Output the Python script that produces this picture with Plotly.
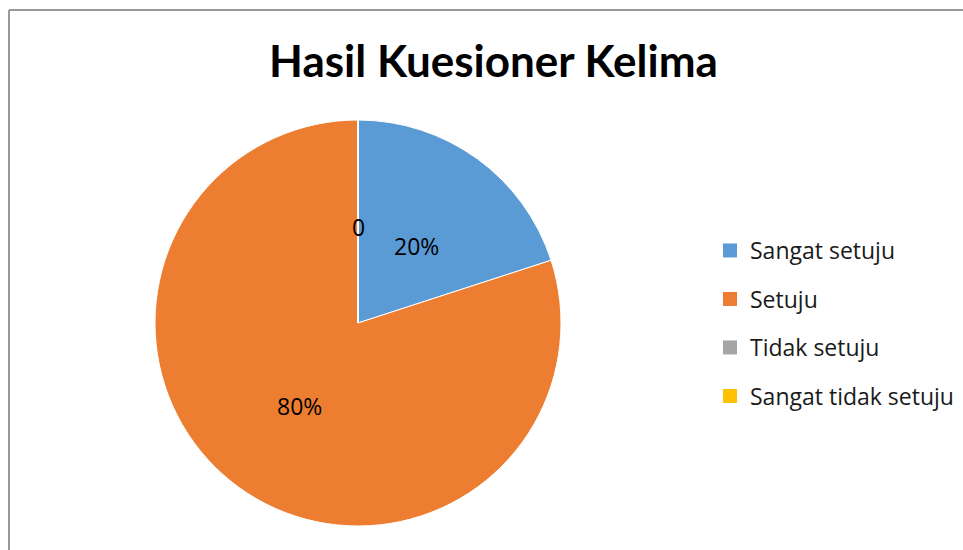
import math
import plotly.graph_objects as go

# ---- data ----
labels = ["Sangat setuju", "Setuju", "Tidak setuju", "Sangat tidak setuju"]
values = [20, 80, 0, 0]
label_texts = ["20%", "80%", "0", ""]
colors = ["#5B9BD5", "#ED7D31", "#A5A5A5", "#FFC000"]
title_text = "Hasil Kuesioner Kelima"

# ---- layout constants (pixels) ----
W, H = 963, 550
cx, cy, R = 358, 323, 203
label_k = 0.49

fig = go.Figure()
fig.add_trace(go.Pie(
    labels=labels, values=values, sort=False, direction="clockwise", rotation=0,
    marker=dict(colors=colors, line=dict(color="white", width=1)),
    textinfo="none", showlegend=False, hoverinfo="label+percent",
    domain=dict(x=[(cx - R) / W, (cx + R) / W], y=[1 - (cy + R) / H, 1 - (cy - R) / H]),
))

# legend entries (one per category, so the spacing between them can be set)
for lab, col in zip(labels, colors):
    fig.add_trace(go.Scatter(
        x=[None], y=[None], mode="markers", name=lab, legendgroup=lab,
        marker=dict(symbol="square", size=14, color=col), hoverinfo="skip",
    ))

# data labels placed at the middle angle of each slice
total = sum(values)
cum = 0.0
annotations = []
for v, t in zip(values, label_texts):
    mid = (cum + v / 2) / total
    cum += v
    if not t:
        continue
    th = 2 * math.pi * mid
    px = cx + label_k * R * math.sin(th)
    py = cy - label_k * R * math.cos(th)
    annotations.append(dict(
        x=px / W, y=1 - py / H, xref="paper", yref="paper", text=t, showarrow=False,
        font=dict(family="Open Sans", size=23, color="#000000"),
        xanchor="center", yanchor="middle", yshift=-3,
    ))

fig.update_layout(
    width=W, height=H,
    margin=dict(l=0, r=0, t=0, b=0),
    paper_bgcolor="white", plot_bgcolor="white",
    title=dict(text="<b>" + title_text + "</b>", x=493.5 / W, y=1 - 62 / H,
               xanchor="center", yanchor="middle",
               font=dict(family="Lato", size=44, color="#000000")),
    xaxis=dict(visible=False), yaxis=dict(visible=False),
    showlegend=True,
    legend=dict(x=710 / W, y=1 - 229 / H, xanchor="left", yanchor="top",
                font=dict(family="Open Sans", size=23, color="#1a1a1a"),
                tracegroupgap=15.6, bgcolor="rgba(0,0,0,0)", itemclick=False,
                itemdoubleclick=False),
    annotations=annotations,
    shapes=[
        dict(type="line", xref="paper", yref="paper", x0=9 / W, x1=9 / W, y0=0, y1=1 - 10 / H,
             line=dict(color="#999999", width=2)),
        dict(type="line", xref="paper", yref="paper", x0=9 / W, x1=1, y0=1 - 10 / H, y1=1 - 10 / H,
             line=dict(color="#999999", width=2)),
    ],
)

fig.write_html("out.html")
